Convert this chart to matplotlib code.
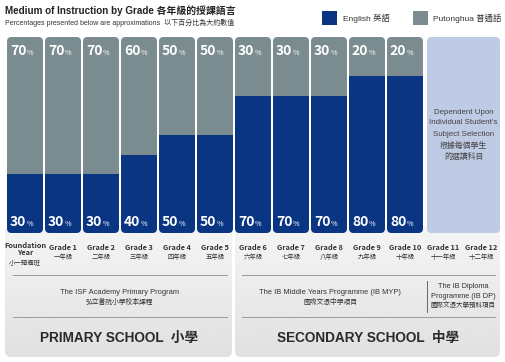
import matplotlib
matplotlib.use("Agg")
import matplotlib.pyplot as plt
from matplotlib.patches import FancyBboxPatch, Rectangle
import numpy as np

# Данные
grades = ["Foundation\nYear", "Grade 1", "Grade 2", "Grade 3", "Grade 4", "Grade 5",
          "Grade 6", "Grade 7", "Grade 8", "Grade 9", "Grade 10", "Grade 11", "Grade 12"]
grades_zh = ["小一預備班", "一年級", "二年級", "三年級", "四年級", "五年級",
             "六年級", "七年級", "八年級", "九年級", "十年級", "十一年級", "十二年級"]
english = [30, 30, 30, 40, 50, 50, 70, 70, 70, 80, 80]
putonghua = [70, 70, 70, 60, 50, 50, 30, 30, 30, 20, 20]

BLUE = "#0a3583"
GRAY = "#7a8c8f"
LIGHT = "#bfcbe4"
TXT = "#333333"
LAT = ["Liberation Sans", "Noto Sans CJK TC"]
NARROW = ["Liberation Sans Narrow", "Noto Sans CJK TC"]
CJK = ["Noto Sans CJK TC", "Liberation Sans"]

W, H = 505, 362
fig = plt.figure(figsize=(W / 100, H / 100), dpi=100)
fig.patch.set_facecolor("white")

# фон в пикселях
bg = fig.add_axes([0, 0, 1, 1])
bg.set_xlim(0, W)
bg.set_ylim(H, 0)
bg.axis("off")

# нижние серые панели с градиентом
grad = np.linspace(0.96, 0.88, 100).reshape(-1, 1)
for x0, x1 in [(5, 232), (235, 500)]:
    p = FancyBboxPatch((x0, 226), x1 - x0, 131, boxstyle="round,pad=0,rounding_size=6",
                       facecolor="none", edgecolor="none")
    bg.add_patch(p)
    im = bg.imshow(grad, cmap="gray", vmin=0, vmax=1, extent=(x0, x1, 357, 226),
                   aspect="auto", zorder=1)
    im.set_clip_path(p)

# линии-разделители
for y in [275, 317]:
    bg.plot([13, 227], [y, y], color="#9a9a9a", lw=0.7, zorder=2)
    bg.plot([242, 495], [y, y], color="#9a9a9a", lw=0.7, zorder=2)
bg.plot([427, 427], [281, 312], color="#666666", lw=0.7, zorder=2)

# заголовок и легенда
bg.text(5, 11, "Medium of Instruction by Grade 各年級的授課語言", family=LAT,
        fontsize=7.1, fontweight="bold", color="#222222", va="center", zorder=3)
bg.text(5, 23, "Percentages presented below are approximations  以下百分比為大約數值",
        family=LAT, fontsize=5.0, color=TXT, va="center", zorder=3)
bg.add_patch(Rectangle((322, 11), 15, 14, facecolor=BLUE, zorder=3))
bg.text(343, 18, "English 英語", family=LAT, fontsize=6, color=TXT, va="center", zorder=3)
bg.add_patch(Rectangle((413, 11), 15, 14, facecolor=GRAY, zorder=3))
bg.text(433, 18, "Putonghua 普通話", family=LAT, fontsize=6, color=TXT, va="center", zorder=3)

# подписи классов
for i, (g, gz) in enumerate(zip(grades, grades_zh)):
    cx = 25 + 38 * i
    if i == 0:
        bg.text(cx, 249, g, family=NARROW, fontsize=5.3, fontweight="bold", color=TXT,
                ha="center", va="center", linespacing=0.95, zorder=3)
        bg.text(cx, 263, gz, family=CJK, fontsize=4.6, color=TXT, ha="center", va="center", zorder=3)
    else:
        bg.text(cx, 247, g, family=NARROW, fontsize=5.3, fontweight="bold", color=TXT,
                ha="center", va="center", zorder=3)
        bg.text(cx, 257, gz, family=CJK, fontsize=4.6, color=TXT, ha="center", va="center", zorder=3)

# программы
bg.text(119, 292, "The ISF Academy Primary Program", family=LAT, fontsize=5.4, color=TXT,
        ha="center", va="center", zorder=3)
bg.text(119, 302, "弘立書院小學校本課程", family=CJK, fontsize=4.9, color=TXT,
        ha="center", va="center", zorder=3)
bg.text(330, 292, "The IB Middle Years Programme (IB MYP)", family=LAT, fontsize=5.4, color=TXT,
        ha="center", va="center", zorder=3)
bg.text(330, 302, "國際文憑中學項目", family=CJK, fontsize=4.9, color=TXT,
        ha="center", va="center", zorder=3)
bg.text(463, 287, "The IB Diploma", family=LAT, fontsize=5.3, color=TXT, ha="center", va="center", zorder=3)
bg.text(463, 296, "Programme (IB DP)", family=LAT, fontsize=5.3, color=TXT, ha="center", va="center", zorder=3)
bg.text(463, 305, "國際文憑大學預科項目", family=CJK, fontsize=4.7, color=TXT, ha="center", va="center", zorder=3)

bg.text(119, 338, "PRIMARY SCHOOL  小學", family=LAT, fontsize=9.8, fontweight="bold",
        color="#2a2a2a", ha="center", va="center", zorder=3)
bg.text(368, 338, "SECONDARY SCHOOL  中學", family=LAT, fontsize=9.8, fontweight="bold",
        color="#2a2a2a", ha="center", va="center", zorder=3)

# столбцы
ax = fig.add_axes([6 / W, 1 - 233 / H, 494 / W, 196 / H])
ax.set_xlim(-0.5, 12.5)
ax.set_ylim(0, 100)
ax.axis("off")
ax.patch.set_alpha(0)

bw = 36 / 38
xs = np.arange(len(english))
aspect = (100 / 196) / (1 / 38)
r = 4.5 / 38

b1 = ax.bar(xs, english, width=bw, color=BLUE, zorder=2)
b2 = ax.bar(xs, putonghua, bottom=english, width=bw, color=GRAY, zorder=2)
for i in xs:
    clip = FancyBboxPatch((i - bw / 2, 0), bw, 100,
                          boxstyle=f"round,pad=0,rounding_size={r}",
                          mutation_aspect=aspect, transform=ax.transData,
                          facecolor="none", edgecolor="none")
    ax.add_patch(clip)
    b1[i].set_clip_path(clip)
    b2[i].set_clip_path(clip)

    for val, y, dy in [(english[i], 0, 11 * 0.72), (putonghua[i], 100, -14 * 0.72)]:
        ax.annotate(f"{val}", (i, y), xytext=(1.4 * 0.72, dy), textcoords="offset points",
                    ha="right", va="center", color="white", fontsize=10,
                    fontweight="bold", family=NARROW, zorder=3)
        ax.annotate("%", (i, y), xytext=(1.8 * 0.72, dy - 1.2), textcoords="offset points",
                    ha="left", va="center", color="white", fontsize=5.2,
                    family=NARROW, zorder=3)

# 11–12 классы: зависит от выбора
lx0 = (427 - 6) / 38 - 0.5
ax.add_patch(FancyBboxPatch((lx0, 0), 12.5 - lx0, 100,
                            boxstyle=f"round,pad=0,rounding_size={r}",
                            mutation_aspect=aspect, facecolor=LIGHT, edgecolor="none", zorder=2))
note = ["Dependent Upon", "Individual Student's", "Subject Selection", "根據每個學生", "的選讀科目"]
for k, line in enumerate(note):
    yy = 100 - (112 + 11 * k - 37) / 1.96
    ax.text((lx0 + 12.5) / 2, yy, line, family=LAT if k < 3 else CJK, fontsize=5.7,
            color="#444444", ha="center", va="center", zorder=3)

fig.savefig("out.png", dpi=100)
